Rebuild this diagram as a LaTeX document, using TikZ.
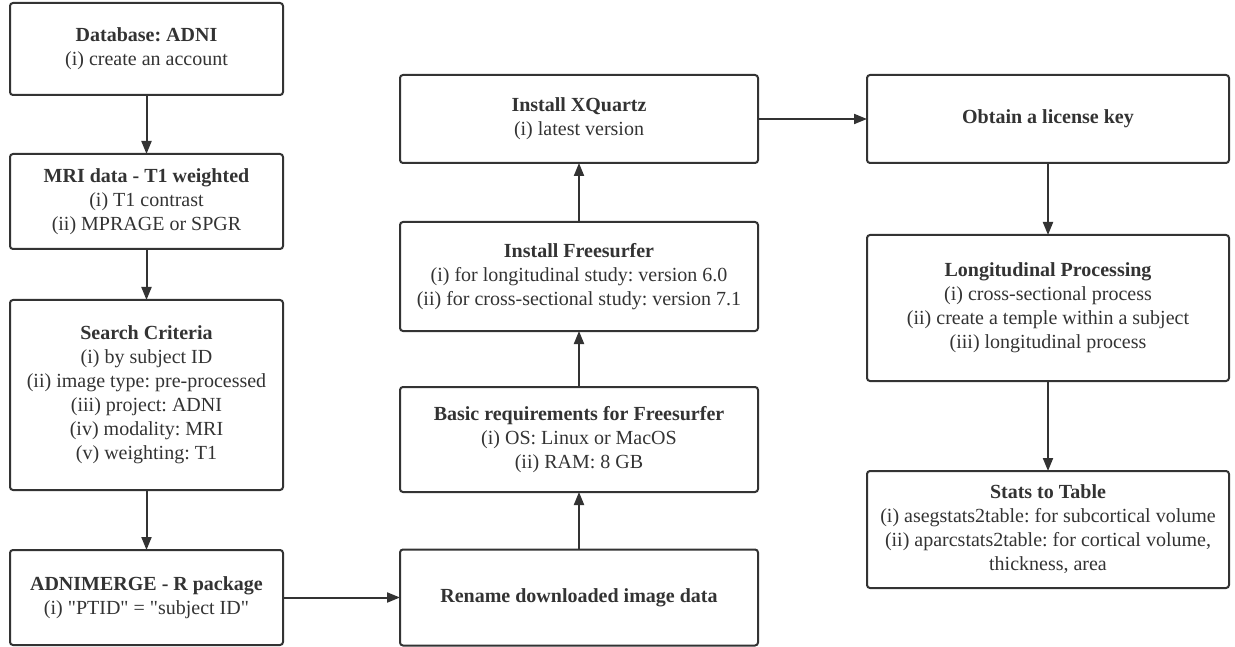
\documentclass[tikz,border=0pt]{standalone}
\usepackage{fontspec}
\setmainfont{Liberation Serif}
\usetikzlibrary{arrows.meta}
\definecolor{ink}{HTML}{333333}
\frenchspacing
\tikzset{
  box/.style={draw=ink, line width=2pt, rounded corners=3pt, inner sep=0pt, outer sep=0pt,
    align=center, text=ink, font=\fontsize{20}{24}\selectfont},
  colL/.style={box, minimum width=273pt},
  colM/.style={box, minimum width=358pt},
  colR/.style={box, minimum width=362pt},
  link/.style={draw=ink, line width=2pt, -{Triangle[length=13pt,width=10pt]}}
}
\begin{document}
\begin{tikzpicture}[x=1pt,y=-1pt]
\useasboundingbox (0,0) rectangle (1235,647);
% left column
\node[colL, minimum height=92pt] (db) at (146.5,49) {\textbf{Database: ADNI}\\(i) create an account};
\node[colL, minimum height=95pt] (mri) at (146.5,201.5) {\textbf{MRI data - T1 weighted}\\(i) T1 contrast\\(ii) MPRAGE or SPGR};
\node[colL, minimum height=190pt] (search) at (146.5,395) {\textbf{Search Criteria}\\(i) by subject ID\\(ii) image type: pre-processed\\(iii) project: ADNI\\(iv) modality: MRI\\(v) weighting: T1};
\node[colL, minimum height=95pt] (adni) at (146.5,597.5) {\textbf{ADNIMERGE - R package}\\(i) \textquotedbl PTID\textquotedbl{} = \textquotedbl subject ID\textquotedbl};
% middle column
\node[colM, minimum height=88pt] (xq) at (579,119) {\textbf{Install XQuartz}\\(i) latest version};
\node[colM, minimum height=109pt] (fs) at (579,276.5) {\textbf{Install Freesurfer}\\(i) for longitudinal study: version 6.0\\(ii) for cross-sectional study: version 7.1};
\node[colM, minimum height=105pt] (basic) at (579,439.5) {\textbf{Basic requirements for Freesurfer}\\(i) OS: Linux or MacOS\\(ii) RAM: 8 GB};
\node[colM, minimum height=96pt] (ren) at (579,597.5) {\textbf{Rename downloaded image data}};
% right column
\node[colR, minimum height=88pt] (lic) at (1048,119) {\textbf{Obtain a license key}};
\node[colR, minimum height=146pt] (long) at (1048,308) {\textbf{Longitudinal Processing}\\(i) cross-sectional process\\(ii) create a temple within a subject\\(iii) longitudinal process};
\node[colR, minimum height=117pt] (stats) at (1048,529.5) {\textbf{Stats to Table}\\(i) asegstats2table: for subcortical volume\\(ii) aparcstats2table: for cortical volume,\\thickness, area};
% connectors
\draw[link] (db) -- (mri);
\draw[link] (mri) -- (search);
\draw[link] (search) -- (adni);
\draw[link] (adni) -- (ren);
\draw[link] (ren) -- (basic);
\draw[link] (basic) -- (fs);
\draw[link] (fs) -- (xq);
\draw[link] (xq) -- (lic);
\draw[link] (lic) -- (long);
\draw[link] (long) -- (stats);
\end{tikzpicture}
\end{document}
